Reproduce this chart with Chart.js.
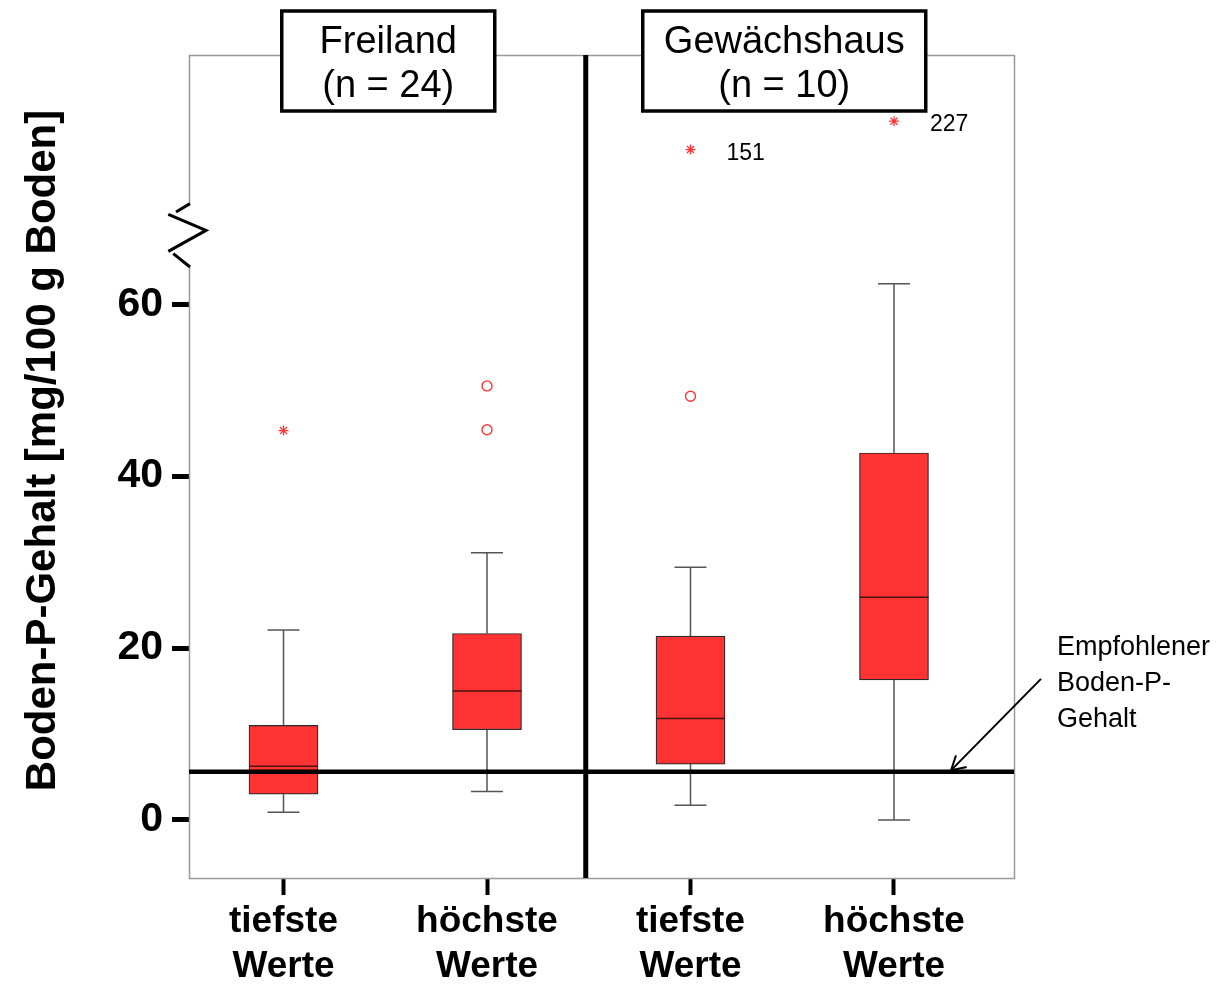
<!DOCTYPE html>
<html><head><meta charset="utf-8">
<script src="https://cdn.jsdelivr.net/npm/chart.js@4.4.1/dist/chart.umd.min.js"></script>
<style>html,body{margin:0;padding:0;background:#fff}#wrap{width:1230px;height:986px}</style>
</head><body><div id="wrap"><canvas id="c" width="1230" height="986"></canvas></div>
<script>
// ---- data ----
const categories = [['tiefste','Werte'], ['höchste','Werte'], ['tiefste','Werte'], ['höchste','Werte']];
const groups = ['Freiland', 'Gewächshaus'];
const groupN = [24, 10];
const whiskerLow  = [0.9, 3.3, 1.7, 0.0];
const q1          = [3.0, 10.5, 6.5, 16.3];
const median      = [6.25, 15.0, 11.8, 25.9];
const q3          = [11.0, 21.7, 21.4, 42.7];
const whiskerHigh = [22.1, 31.1, 29.4, 62.4];
// outliers (o)
const outlierCat = [2, 2, 3];
const outlierVal = [50.5, 45.4, 49.3];
// extremes (*) – the last two lie above the axis break (axis position on the broken axis)
const extremeCat  = [1, 3, 4];
const extremeVal  = [45.3, 78.0, 81.3];
const extremeCase = ['', '151', '227'];
const refValue = 5.6;           // Empfohlener Boden-P-Gehalt
const refLabel = ['Empfohlener', 'Boden-P-', 'Gehalt'];
const yTicks = [0, 20, 40, 60];
const yTitle = 'Boden-P-Gehalt [mg/100 g Boden]';
const axisBreakAt = 68.6;

const FONT = '"Liberation Sans", Arial, Helvetica, sans-serif';
const RED = '#ff3333';

const boxPlugin = {
  id: 'boxExtras',
  beforeDatasetsDraw(chart) {
    const {ctx, scales: {x, y}} = chart;
    ctx.save();
    ctx.strokeStyle = '#555';
    ctx.lineWidth = 1.5;
    categories.forEach((c, i) => {
      const px = x.getPixelForValue(i + 1);
      const lo = y.getPixelForValue(whiskerLow[i]);
      const hi = y.getPixelForValue(whiskerHigh[i]);
      ctx.beginPath();
      ctx.moveTo(px, lo); ctx.lineTo(px, y.getPixelForValue(q1[i]));
      ctx.moveTo(px, y.getPixelForValue(q3[i])); ctx.lineTo(px, hi);
      ctx.moveTo(px - 16, lo); ctx.lineTo(px + 16, lo);
      ctx.moveTo(px - 16, hi); ctx.lineTo(px + 16, hi);
      ctx.stroke();
    });
    ctx.restore();
  },
  afterDatasetsDraw(chart) {
    const {ctx, chartArea: a, scales: {x, y}} = chart;
    ctx.save();
    // medians
    ctx.strokeStyle = '#4a1212';
    ctx.lineWidth = 1.5;
    categories.forEach((c, i) => {
      const px = x.getPixelForValue(i + 1);
      const py = y.getPixelForValue(median[i]);
      ctx.beginPath(); ctx.moveTo(px - 34.5, py); ctx.lineTo(px + 34.5, py); ctx.stroke();
    });
    // frame
    ctx.strokeStyle = '#999';
    ctx.lineWidth = 1.5;
    ctx.strokeRect(a.left + 0.5, a.top + 0.5, a.right - a.left, a.bottom - a.top);
    // reference line
    const ry = y.getPixelForValue(refValue);
    ctx.strokeStyle = '#000';
    ctx.lineWidth = 4.5;
    ctx.beginPath(); ctx.moveTo(a.left, ry); ctx.lineTo(a.right, ry); ctx.stroke();
    // group separator
    const sx = x.getPixelForValue(2.5) - 3;
    ctx.lineWidth = 5;
    ctx.beginPath(); ctx.moveTo(sx, a.top); ctx.lineTo(sx, a.bottom); ctx.stroke();
    // axis break
    const L = a.left, yc = y.getPixelForValue(axisBreakAt);
    ctx.fillStyle = '#fff';
    ctx.fillRect(L - 3, yc - 27, 6, 64);
    ctx.strokeStyle = '#000';
    ctx.lineWidth = 3;
    ctx.beginPath();
    ctx.moveTo(L + 1, yc - 26.7); ctx.lineTo(L - 13, yc - 18.3);
    ctx.moveTo(L - 20.7, yc - 16); ctx.lineTo(L + 17, yc); ctx.lineTo(L - 20.7, yc + 21);
    ctx.moveTo(L - 15.7, yc + 23.3); ctx.lineTo(L + 1, yc + 36.7);
    ctx.stroke();
    // case labels of extremes
    ctx.fillStyle = '#000';
    ctx.font = '23px ' + FONT;
    ctx.textAlign = 'left';
    ctx.textBaseline = 'alphabetic';
    extremeCat.forEach((c, i) => {
      if (!extremeCase[i]) return;
      ctx.fillText(extremeCase[i], x.getPixelForValue(c) + 36, y.getPixelForValue(extremeVal[i]) + 10);
    });
    // reference annotation
    ctx.font = '27px ' + FONT;
    refLabel.forEach((t, k) => ctx.fillText(t, a.right + 43, ry - 117 + k * 36));
    const tx = a.right - 63, ty = ry - 1.5;
    ctx.lineWidth = 2;
    ctx.beginPath();
    ctx.moveTo(a.right + 27, ry - 93); ctx.lineTo(tx, ty);
    ctx.moveTo(tx + 5, ty - 15); ctx.lineTo(tx, ty); ctx.lineTo(tx + 15.7, ty - 3.3);
    ctx.stroke();
    // group header boxes
    const widths = [213, 283];
    const shifts = [3, -8];
    groups.forEach((g, k) => {
      const cx = x.getPixelForValue(1.5 + 2 * k) + shifts[k];
      const w = widths[k];
      ctx.fillStyle = '#fff';
      ctx.fillRect(cx - w / 2, 11, w, 100);
      ctx.strokeStyle = '#000';
      ctx.lineWidth = 3.5;
      ctx.strokeRect(cx - w / 2, 11, w, 100);
      ctx.fillStyle = '#000';
      ctx.font = '38px ' + FONT;
      ctx.textAlign = 'center';
      ctx.fillText(g, cx, 53);
      ctx.fillText('(n = ' + groupN[k] + ')', cx, 97);
    });
    // y axis title
    ctx.save();
    ctx.translate(43, (a.top + a.bottom) / 2 - 16);
    ctx.rotate(-Math.PI / 2);
    ctx.font = 'bold 42px ' + FONT;
    ctx.textAlign = 'center';
    ctx.textBaseline = 'middle';
    ctx.fillText(yTitle, 0, 0);
    ctx.restore();
    ctx.restore();
  }
};

new Chart(document.getElementById('c'), {
  type: 'bar',
  data: {
    datasets: [
      {
        type: 'bar', label: 'Box',
        data: categories.map((c, i) => ({x: i + 1, y: [q1[i], q3[i]]})),
        backgroundColor: RED, borderColor: '#2a2a2a', borderWidth: 1.2,
        borderSkipped: false, barThickness: 69, order: 2
      },
      {
        type: 'scatter', label: 'Ausreißer',
        data: outlierCat.map((c, i) => ({x: c, y: outlierVal[i]})),
        pointStyle: 'circle', radius: 5, borderColor: RED,
        backgroundColor: 'rgba(0,0,0,0)', borderWidth: 1.4, order: 1
      },
      {
        type: 'scatter', label: 'Extremwerte',
        data: extremeCat.map((c, i) => ({x: c, y: extremeVal[i]})),
        pointStyle: 'star', radius: 5, borderColor: RED, borderWidth: 1.3, order: 1
      }
    ]
  },
  options: {
    responsive: false, animation: false,
    layout: {padding: {top: 55, right: 216, bottom: 0, left: 0}},
    plugins: {legend: {display: false}, tooltip: {enabled: false}},
    scales: {
      x: {
        type: 'linear', min: 0.5356, max: 4.5897, offset: false,
        afterBuildTicks: s => { s.ticks = categories.map((c, i) => ({value: i + 1})); },
        afterFit: s => { s.height = 108; },
        ticks: {
          callback: v => categories[Math.round(v) - 1],
          font: {family: FONT, size: 37, weight: 'bold', lineHeight: 1.22},
          color: '#000', padding: 4, maxRotation: 0, autoSkip: false
        },
        grid: {offset: false, drawOnChartArea: false, drawTicks: true, tickLength: 17, tickWidth: 4, tickColor: '#000'},
        border: {display: false}
      },
      y: {
        min: -6.75, max: 89,
        afterBuildTicks: s => { s.ticks = yTicks.map(v => ({value: v})); },
        afterFit: s => { s.width = 189; },
        ticks: {font: {family: FONT, size: 41, weight: 'bold'}, color: '#000', padding: 9},
        grid: {drawOnChartArea: false, drawTicks: true, tickLength: 17, tickWidth: 5, tickColor: '#000'},
        border: {display: false},
        title: {display: false, text: yTitle}
      }
    }
  },
  plugins: [boxPlugin]
});
</script></body></html>
